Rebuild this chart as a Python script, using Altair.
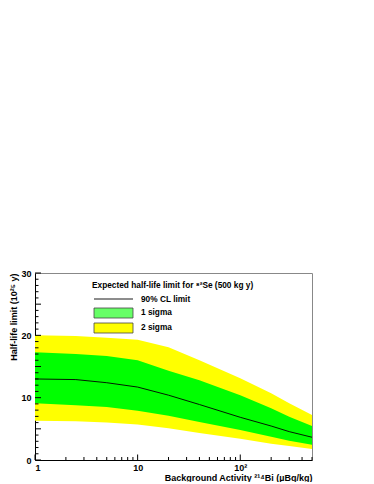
import altair as alt
import pandas as pd

# ---- data ----
activity = [1, 2.5, 5, 10, 20, 40, 100, 200, 300, 500]
limit90 = [13.0, 12.9, 12.4, 11.7, 10.4, 8.9, 6.85, 5.45, 4.55, 3.65]
sig1_hi = [17.3, 17.0, 16.7, 16.0, 14.3, 12.8, 10.4, 8.3, 6.95, 5.45]
sig1_lo = [9.1, 8.8, 8.5, 7.9, 7.1, 6.1, 4.8, 3.75, 3.1, 2.45]
sig2_hi = [20.0, 19.9, 19.6, 19.3, 18.1, 16.0, 13.1, 10.7, 9.1, 7.2]
sig2_lo = [6.3, 6.2, 6.0, 5.7, 5.1, 4.35, 3.4, 2.6, 2.25, 1.75]

y_major = [0, 5, 10, 15, 20, 25, 30]
y_minor = [v for v in range(0, 31) if v % 5 != 0]
x_major = [1, 10, 100]
x_minor = [2, 3, 4, 5, 6, 7, 8, 9, 20, 30, 40, 50, 60, 70, 80, 90, 200, 300, 400, 500]

W, H = 277, 187
FONT = "Liberation Sans, DejaVu Sans"

df = pd.DataFrame({"x": activity, "c": limit90, "s1h": sig1_hi, "s1l": sig1_lo,
                   "s2h": sig2_hi, "s2l": sig2_lo})

xs = alt.Scale(type="log", domain=[1, 500], nice=False)
ys = alt.Scale(domain=[0, 30], nice=False)

xax = alt.Axis(values=[1, 10, 100], labelExpr="datum.value == 100 ? '10²' : datum.label",
               ticks=False, grid=False, domainColor="black", labelFont=FONT,
               labelFontWeight="bold", labelFontSize=9, labelColor="black", labelPadding=3,
               title="Background Activity ²¹⁴Bi (µBq/kg)", titleFont=FONT,
               titleFontWeight="bold", titleFontSize=9, titleColor="black",
               titleAnchor="end", titleAlign="right", titleX=W, titleY=17,
               titleBaseline="middle")
yax = alt.Axis(values=y_major, ticks=False, grid=False, domainColor="black",
               labelFont=FONT, labelFontWeight="bold", labelFontSize=9, labelColor="black",
               labelPadding=4, title="Half-life limit (10²⁵ y)", titleFont=FONT,
               titleFontWeight="bold", titleFontSize=9, titleColor="black",
               titleAngle=270, titleAlign="right", titleX=-22, titleY=0,
               titleBaseline="middle")

base = alt.Chart(df)
band2 = base.mark_area(color="#ffff00", opacity=1).encode(
    x=alt.X("x:Q", scale=xs, axis=xax),
    y=alt.Y("s2l:Q", scale=ys, axis=yax),
    y2="s2h:Q")
band1 = base.mark_area(color="#00ff00", opacity=1).encode(
    x=alt.X("x:Q", scale=xs), y=alt.Y("s1l:Q", scale=ys), y2="s1h:Q")
line = base.mark_line(color="black", strokeWidth=0.9).encode(
    x=alt.X("x:Q", scale=xs), y=alt.Y("c:Q", scale=ys))

ymaj = alt.Chart(pd.DataFrame({"v": y_major})).mark_rule(color="black").encode(
    y=alt.Y("v:Q", scale=ys), x=alt.value(0), x2=alt.value(6))
ymin = alt.Chart(pd.DataFrame({"v": y_minor})).mark_rule(color="black").encode(
    y=alt.Y("v:Q", scale=ys), x=alt.value(0), x2=alt.value(3.5))
xmaj = alt.Chart(pd.DataFrame({"v": x_major})).mark_rule(color="black").encode(
    x=alt.X("v:Q", scale=xs), y=alt.value(H), y2=alt.value(H - 5.5))
xmin = alt.Chart(pd.DataFrame({"v": x_minor})).mark_rule(color="black").encode(
    x=alt.X("v:Q", scale=xs), y=alt.value(H), y2=alt.value(H - 3))

one = pd.DataFrame({"a": [0]})


def txt(s, x, y, size=8.3):
    return alt.Chart(one).mark_text(align="left", baseline="middle", font=FONT,
                                    fontWeight="bold", fontSize=size, color="black").encode(
        x=alt.value(x), y=alt.value(y), text=alt.value(s))


leg_title = txt("Expected half-life limit for ⁸²Se (500 kg y)", 57, 13)
leg_line = alt.Chart(one).mark_rule(color="black", strokeWidth=0.9).encode(
    x=alt.value(59), x2=alt.value(98), y=alt.value(26))
leg_g = alt.Chart(one).mark_rect(color="#66ff66", stroke="#444444", strokeWidth=0.8).encode(
    x=alt.value(59), x2=alt.value(98), y=alt.value(35), y2=alt.value(45))
leg_y = alt.Chart(one).mark_rect(color="#ffff00", stroke="#444444", strokeWidth=0.8).encode(
    x=alt.value(59), x2=alt.value(98), y=alt.value(50), y2=alt.value(60))
t1 = txt("90% CL limit", 106, 27)
t2 = txt("1 sigma", 106, 40)
t3 = txt("2 sigma", 106, 55)

chart = alt.layer(band2, band1, line, ymaj, ymin, xmaj, xmin,
                  leg_title, leg_line, leg_g, leg_y, t1, t2, t3).properties(
    width=W, height=H,
    autosize=alt.AutoSizeParams(type="none"),
    padding={"left": 27, "top": 265, "right": 54, "bottom": 22},
    background="white",
).configure_view(stroke="#888888", strokeWidth=1)

chart.save("out.html", embed_options={"renderer": "svg", "actions": False})
